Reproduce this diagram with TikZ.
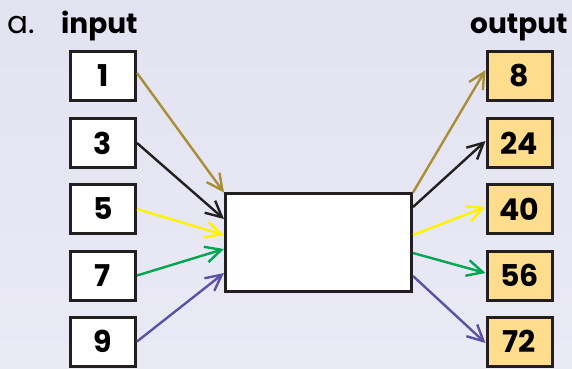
\documentclass[tikz,border=0pt]{standalone}
\usepackage{fontspec}
\setmainfont{Poppins}
\usetikzlibrary{arrows.meta,calc}
\definecolor{bgtop}{RGB}{227,226,241}
\definecolor{bgbot}{RGB}{234,234,245}
\definecolor{boxline}{RGB}{35,31,32}
\definecolor{outfill}{RGB}{255,221,140}
\definecolor{cbrown}{RGB}{168,143,53}
\definecolor{cblack}{RGB}{35,31,32}
\definecolor{cyellow}{RGB}{255,242,0}
\definecolor{cgreen}{RGB}{0,166,81}
\definecolor{cpurple}{RGB}{91,82,163}
\begin{document}
\begin{tikzpicture}[x=1pt,y=-1pt,
  inbox/.style={draw=boxline, line width=3pt, fill=white, minimum width=65pt, minimum height=49pt, inner sep=0pt, font=\bfseries\fontsize{30}{30}\selectfont},
  outbox/.style={inbox, fill=outfill},
  midbox/.style={draw=boxline, line width=3pt, fill=white, minimum width=186pt, minimum height=98pt, inner sep=0pt},
  conn/.style={line width=2.4pt, -{Straight Barb[length=16pt,width=16pt]}},
  lbl/.style={anchor=base west, inner sep=0pt, font=\fontsize{31}{31}\selectfont},
  blbl/.style={lbl, font=\bfseries\fontsize{28}{28}\selectfont}]
\shade[top color=bgtop, bottom color=bgbot] (0,0) rectangle (572,368);
\useasboundingbox (0,0) rectangle (572,368);
\node[lbl] (la) at (7,33) {a.};
\node[blbl] (lin) at (61,33) {input};
\node[blbl] (lout) at (470,33) {output};
\node[inbox] (i1) at (103,76) {1};
\node[inbox] (i3) at (103,143) {3};
\node[inbox] (i5) at (103,209) {5};
\node[inbox] (i7) at (103,275.5) {7};
\node[inbox] (i9) at (103,341.5) {9};
\node[outbox] (o8) at (519.5,76) {8};
\node[outbox] (o24) at (519.5,143) {24};
\node[outbox] (o40) at (519.5,209) {40};
\node[outbox] (o56) at (519.5,275.5) {56};
\node[outbox] (o72) at (519.5,341.5) {72};
\node[midbox] (m) at (318.5,242.5) {};
\draw[conn, cbrown] ($(i1.east)+(0,-3)$) -- ($(m.west)+(0,-50)$);
\draw[conn, cblack] (i3.east) -- ($(m.west)+(0,-23.5)$);
\draw[conn, cyellow] (i5.east) -- ($(m.west)+(0,-7.5)$);
\draw[conn, cgreen] (i7.east) -- ($(m.west)+(0,6.5)$);
\draw[conn, cpurple] (i9.east) -- ($(m.west)+(0,30.5)$);
\draw[conn, cbrown] ($(m.east)+(0,-50)$) -- ($(o8.west)+(0,-6)$);
\draw[conn, cblack] ($(m.east)+(0,-35.5)$) -- ($(o24.west)+(0,-2)$);
\draw[conn, cyellow] ($(m.east)+(0,-7.5)$) -- ($(o40.west)+(0,-2)$);
\draw[conn, cgreen] ($(m.east)+(0,10.5)$) -- ($(o56.west)+(0,-2.5)$);
\draw[conn, cpurple] ($(m.east)+(0,33.5)$) -- ($(o72.west)+(0,1.5)$);
\end{tikzpicture}
\end{document}
